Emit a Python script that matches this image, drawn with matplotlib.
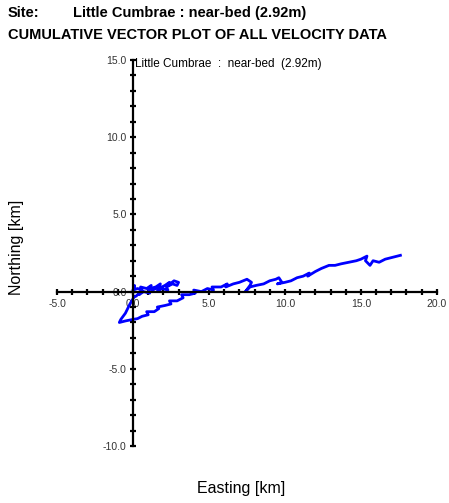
import matplotlib
matplotlib.use("Agg")
import matplotlib.pyplot as plt
from matplotlib.ticker import MultipleLocator, FormatStrFormatter

plt.rcParams['font.family'] = ['Liberation Sans', 'DejaVu Sans']

# Cumulative displacement path (km)
east_km = [0.0, 0.1, 0.0, 0.3, 0.6, 0.5, 0.9, 1.2, 1.1, 1.5, 1.8, 1.7, 2.1, 2.4,
           2.3, 2.7, 3.0, 2.9, 2.6, 2.2, 2.3, 1.9, 1.6, 1.7, 1.3, 1.0, 1.1, 0.7,
           0.4, 0.5, 0.2, 0.1,
           -0.2, -0.5, -0.8, -0.9,
           -0.5, 0.0, 0.3, 0.6, 1.0, 0.9, 1.4, 1.7, 1.6, 2.1, 2.5, 2.4, 2.9, 3.3,
           3.2, 3.7, 4.1, 4.0, 4.5, 4.9, 5.3, 5.2, 5.8, 6.2, 6.1, 6.6, 7.0, 7.5,
           7.8, 7.7, 7.4,
           7.7, 8.1, 8.6, 9.0, 9.4, 9.6, 9.8, 9.5, 10.0, 10.4, 10.8, 11.2, 11.6,
           11.5, 12.0, 12.4, 12.9, 13.3, 13.7, 14.2, 14.7, 15.0, 15.4, 15.3, 15.6,
           15.8, 16.2, 16.6, 17.0, 17.4, 17.6]
north_km = [0.0, 0.4, 0.1, 0.2, 0.1, 0.3, 0.2, 0.4, 0.2, 0.3, 0.5, 0.2, 0.4, 0.6,
            0.4, 0.7, 0.6, 0.4, 0.5, 0.3, 0.1, 0.2, 0.0, 0.3, 0.1, 0.2, -0.1, 0.0,
            -0.2, 0.0, -0.3, -0.3,
            -0.8, -1.4, -1.8, -2.0,
            -1.9, -1.8, -1.75, -1.6, -1.5, -1.3, -1.3, -1.1, -1.0, -0.9, -0.8, -0.6,
            -0.6, -0.4, -0.2, -0.2, -0.1, 0.1, 0.0, 0.2, 0.1, 0.3, 0.3, 0.5, 0.3,
            0.5, 0.6, 0.8, 0.6, 0.4, 0.0,
            0.3, 0.4, 0.5, 0.7, 0.8, 0.9, 0.6, 0.5, 0.6, 0.7, 0.9, 1.0, 1.2,
            1.0, 1.3, 1.5, 1.7, 1.7, 1.8, 1.9, 2.0, 2.1, 2.3, 2.0, 1.7,
            2.0, 1.9, 2.1, 2.2, 2.3, 2.35]

site_name = "Little Cumbrae : near-bed (2.92m)"
inner_label = "Little Cumbrae  :  near-bed  (2.92m)"

fig = plt.figure(figsize=(4.49, 5.03), dpi=100)
ax = fig.add_axes([0.127, 0.1133, 0.846, 0.7674])

ax.plot(east_km, north_km, color="#0000FF", linewidth=2, solid_joinstyle='round')

ax.set_xlim(-5, 20)
ax.set_ylim(-10, 15)

# axes crossing at the origin
for side in ['top', 'right']:
    ax.spines[side].set_visible(False)
for side in ['left', 'bottom']:
    ax.spines[side].set_position(('data', 0))
    ax.spines[side].set_linewidth(1.6)

ax.xaxis.set_major_locator(MultipleLocator(5))
ax.yaxis.set_major_locator(MultipleLocator(5))
ax.xaxis.set_minor_locator(MultipleLocator(1))
ax.yaxis.set_minor_locator(MultipleLocator(1))
ax.xaxis.set_major_formatter(FormatStrFormatter('%.1f'))
ax.yaxis.set_major_formatter(FormatStrFormatter('%.1f'))
ax.tick_params(which='both', direction='inout', length=5, width=1.6, color='black',
               labelsize=7.5, labelcolor='#333333')
ax.tick_params(axis='x', pad=3)
ax.tick_params(axis='y', pad=2)

ax.text(0.15, 15.1, inner_label, fontsize=8.5, va='top', ha='left')

fig.text(8 / 449, 1 - 13 / 503, "Site:", fontsize=10.5, fontweight='bold', va='center')
fig.text(73 / 449, 1 - 13 / 503, site_name, fontsize=10.5, fontweight='bold', va='center')
fig.text(8 / 449, 1 - 35 / 503, "CUMULATIVE VECTOR PLOT OF ALL VELOCITY DATA",
         fontsize=10.5, fontweight='bold', va='center')

fig.text(241 / 449, 1 - 488 / 503, "Easting [km]", fontsize=11.5, ha='center', va='center')
fig.text(17 / 449, 1 - 247 / 503, "Northing [km]", fontsize=11.5, ha='center',
         va='center', rotation=90)

fig.savefig("out.png", dpi=100)
